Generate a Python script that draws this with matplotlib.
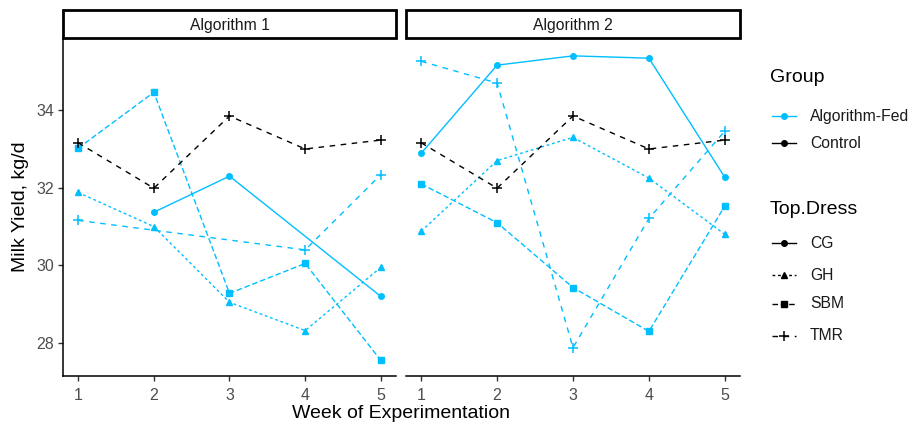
import matplotlib
matplotlib.use("Agg")
import matplotlib.pyplot as plt
from matplotlib.patches import Rectangle
import numpy as np

plt.rcParams['font.family'] = ['Liberation Sans', 'DejaVu Sans']

weeks = [1, 2, 3, 4, 5]
panels = ['Algorithm 1', 'Algorithm 2']
nan = np.nan

# control herd, same in both panels (TMR only)
control_tmr = [33.16, 31.99, 33.85, 33.00, 33.23]

# algorithm-fed groups, panel 1
alg1_cg = [nan, 31.37, 32.30, nan, 29.20]
alg1_gh = [31.88, 31.00, 29.05, 28.32, 29.95]
alg1_sbm = [33.02, 34.46, 29.28, 30.05, 27.55]
alg1_tmr = [31.16, nan, nan, 30.40, 32.34]

# algorithm-fed groups, panel 2
alg2_cg = [32.89, 35.16, 35.40, 35.34, 32.27]
alg2_gh = [30.88, 32.70, 33.30, 32.25, 30.80]
alg2_sbm = [32.10, 31.10, 29.43, 28.30, 31.53]
alg2_tmr = [35.26, 34.70, 27.88, 31.21, 33.46]

groups = ['Algorithm-Fed', 'Control']
top_dress = ['CG', 'GH', 'SBM', 'TMR']

blue = '#00BFFF'
styles = {
    'CG': dict(ls='-', marker='o', ms=4.0, mew=1.0),
    'GH': dict(ls=(0, (2, 2)), marker='^', ms=4.2, mew=1.0),
    'SBM': dict(ls=(0, (4, 2)), marker='s', ms=3.9, mew=1.0),
    'TMR': dict(ls=(0, (4, 4)), marker='+', ms=7, mew=1.1),
}

data = [
    {'CG': alg1_cg, 'GH': alg1_gh, 'SBM': alg1_sbm, 'TMR': alg1_tmr},
    {'CG': alg2_cg, 'GH': alg2_gh, 'SBM': alg2_sbm, 'TMR': alg2_tmr},
]

W, H = 916, 430
fig = plt.figure(figsize=(W / 100, H / 100), dpi=100)

def px_axes(x0, y0, x1, y1):
    return fig.add_axes([x0 / W, 1 - y1 / H, (x1 - x0) / W, (y1 - y0) / H])

def draw_line(ax, x, y, color, name):
    st = styles[name]
    x = np.array(x, float)
    y = np.array(y, float)
    ok = ~np.isnan(y)
    ax.plot(x[ok], y[ok], color=color, lw=1.0, linestyle=st['ls'],
            marker=st['marker'], ms=st['ms'], mew=st['mew'],
            dash_capstyle='butt')

tick_col = '#4D4D4D'
panel_x = [(63, 396), (406, 740)]
for i, (x0, x1) in enumerate(panel_x):
    ax = px_axes(x0, 38, x1, 376)
    for name, vals in data[i].items():
        draw_line(ax, weeks, vals, blue, name)
    draw_line(ax, weeks, control_tmr, 'black', 'TMR')

    ax.set_xlim(0.8, 5.2)
    ax.set_ylim(27.15, 35.86)
    ax.set_xticks(weeks)
    ax.set_yticks([28, 30, 32, 34])
    for s in ['top', 'right']:
        ax.spines[s].set_visible(False)
    ax.spines['bottom'].set_linewidth(1.1)
    ax.spines['left'].set_linewidth(1.1)
    ax.tick_params(colors='#333333', labelcolor=tick_col, labelsize=11.5,
                   length=3.5, width=1.0, pad=3)
    ax.tick_params(axis='x', pad=5)
    if i == 1:
        ax.spines['left'].set_visible(False)
        ax.tick_params(axis='y', left=False, labelleft=False)
    else:
        ax.set_ylabel('Milk Yield, kg/d', fontsize=14, color='black', labelpad=5)

    # facet strip
    sax = px_axes(x0, 10, x1, 38)
    sax.axis('off')
    sax.add_patch(Rectangle((0, 0), 1, 1, transform=sax.transAxes, fill=False,
                            ec='black', lw=2.0, clip_on=False))
    sax.text(0.5, 0.45, panels[i], ha='center', va='center', fontsize=11.3,
             color='#1A1A1A')

fig.text((63 + 740) / 2 / W, 1 - 413 / H, 'Week of Experimentation',
         ha='center', va='center', fontsize=14)

# legend area in pixel coordinates
lax = px_axes(750, 0, W, H)
lax.set_xlim(750, W)
lax.set_ylim(H, 0)
lax.axis('off')

def legend_key(y, label, color, name):
    st = styles[name]
    lax.plot([772, 796], [y, y], color=color, lw=1.0, linestyle=st['ls'],
             dash_capstyle='butt')
    lax.plot([784], [y], color=color, marker=st['marker'], ms=st['ms'],
             mew=st['mew'], linestyle='none')
    lax.text(810, y, label, ha='left', va='center', fontsize=11.3,
             color='#1A1A1A')

lax.text(770, 77, 'Group', ha='left', va='center', fontsize=14)
for y, g, c in zip([116, 143], groups, [blue, 'black']):
    legend_key(y, g, c, 'CG')

lax.text(770, 210, 'Top.Dress', ha='left', va='center', fontsize=14)
for y, k in zip([243, 275, 304, 336], top_dress):
    legend_key(y, k, 'black', k)

fig.savefig('out.png', dpi=100)
